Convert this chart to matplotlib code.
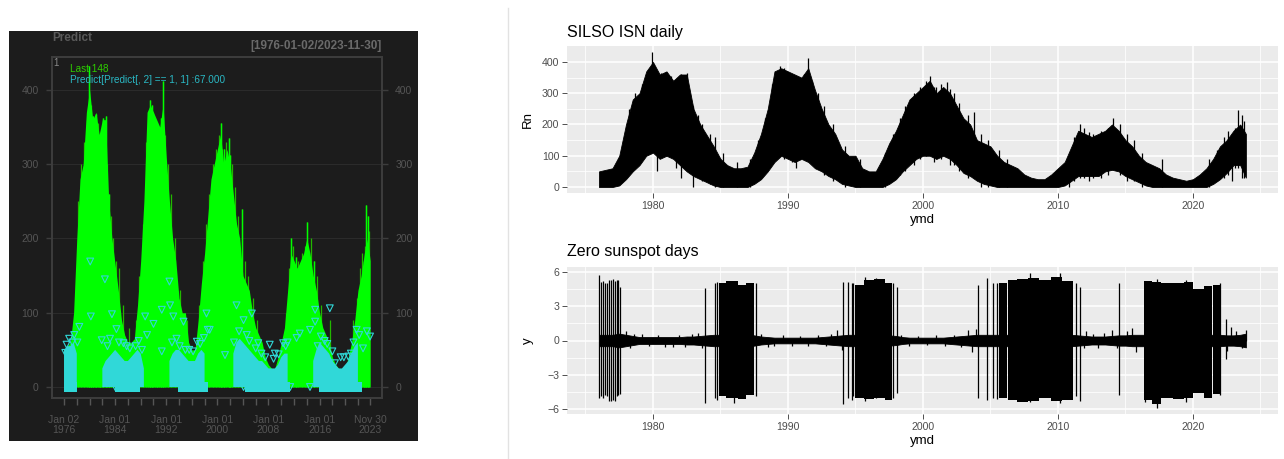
import numpy as np
import matplotlib
matplotlib.use("Agg")
import matplotlib.pyplot as plt
from matplotlib.patches import Rectangle
from matplotlib.lines import Line2D

plt.rcParams['font.family'] = ['Liberation Sans', 'DejaVu Sans']

# ---------------- data ----------------
# half-year sample times 1976.0 ... 2023.5, plus last day 2023-11-30
t_half = np.append(np.arange(1976.0, 2024.0, 0.5), 2023.92)

# daily sunspot number: upper / lower envelope per half year
isn_hi = [50, 55, 60, 100, 200, 280, 300, 370, 400, 360, 370, 340, 360, 360, 250, 200,
          165, 130, 90, 70, 60, 60, 65, 110, 170, 250, 370, 380, 370, 360, 350, 380,
          310, 250, 200, 170, 120, 100, 100, 60, 50, 50, 90, 140, 180, 230, 280, 300,
          320, 340, 300, 320, 300, 260, 220, 200, 150, 140, 130, 100, 80, 70, 60, 40,
          30, 25, 25, 40, 60, 80, 130, 180, 170, 160, 170, 180, 200, 180, 150, 130,
          100, 80, 70, 60, 40, 30, 25, 20, 25, 40, 60, 90, 130, 150, 180, 200, 170]
isn_lo = [0, 0, 0, 5, 25, 50, 70, 100, 110, 90, 100, 90, 70, 50, 35, 25,
          15, 5, 0, 0, 0, 0, 0, 10, 25, 50, 80, 100, 90, 80, 90, 80,
          60, 50, 35, 25, 10, 5, 0, 0, 0, 0, 0, 10, 25, 50, 70, 90,
          100, 100, 90, 100, 90, 70, 45, 35, 20, 10, 5, 0, 0, 0, 0, 0,
          0, 0, 0, 0, 0, 5, 20, 35, 35, 35, 35, 50, 55, 50, 35, 25,
          15, 5, 0, 0, 0, 0, 0, 0, 0, 0, 0, 10, 25, 45, 70, 70, 30]
# individual daily spikes: time, low end, high end
isn_spike_t = [1979.95, 1980.3, 1980.6, 1981.0, 1981.7, 1982.1, 1982.5, 1983.0, 1989.4, 1989.7,
               1990.6, 1991.2, 1991.5, 2000.5, 2001.0, 2001.8, 2002.0, 2003.8, 2011.6, 2012.3,
               2014.1, 2015.1, 2022.9, 2023.3, 2023.6,
               1978.2, 1978.7, 1979.2, 1979.6, 1980.15, 1980.8, 1981.3, 1981.5, 1982.0, 1982.7,
               1983.3, 1983.6, 1984.2, 1984.6, 1985.2, 1986.2, 1987.2, 1987.8, 1988.3, 1988.8,
               1989.1, 1989.9, 1990.3, 1990.9, 1991.8, 1992.2, 1992.7, 1993.3, 1994.2, 1995.3,
               1997.2, 1997.8, 1998.3, 1998.7, 1999.3, 1999.8, 2000.2, 2000.8, 2001.3, 2002.3,
               2002.7, 2003.3, 2004.3, 2004.8, 2005.6, 2006.2, 2010.8, 2011.2, 2011.9, 2012.6,
               2013.2, 2013.7, 2014.6, 2015.6, 2016.2, 2017.7, 2021.2, 2021.8, 2022.3, 2022.6,
               2023.1, 2023.8]
isn_spike_lo = [120, 50, 100, 100, 60, 30, 60, 0, 100, 90, 60, 90, 90, 110, 90, 100, 70, 30, 30, 20,
                60, 20, 20, 60, 30,
                150, 200, 150, 200, 150, 150, 120, 100, 100, 70,
                40, 20, 10, 0, 0, 0, 0, 20, 50, 80,
                90, 100, 80, 90, 80, 60, 40, 20, 0, 0,
                0, 20, 40, 50, 70, 90, 100, 80, 90, 70,
                50, 30, 0, 0, 0, 0, 0, 20, 30, 30,
                30, 40, 40, 20, 0, 0, 0, 20, 30, 40,
                60, 30]
isn_spike_hi = [432, 300, 365, 368, 330, 362, 365, 260, 386, 380, 340, 362, 412, 355, 320, 335, 312, 240, 200, 175,
                222, 170, 170, 245, 230,
                250, 300, 330, 360, 380, 330, 355, 300, 330, 300,
                230, 200, 170, 160, 110, 80, 90, 150, 220, 330,
                330, 370, 355, 330, 340, 300, 260, 200, 130, 90,
                110, 170, 220, 260, 300, 320, 340, 320, 330, 300,
                270, 230, 170, 150, 120, 90, 100, 160, 190, 170,
                180, 190, 200, 150, 110, 90, 90, 120, 160, 180,
                190, 210]

# predicted (Predict[,2]==1) values: dense band top per half year
pred_hi = [50, 55, 55, 60, 45, 0, 0, 0, 0, 0, 0, 0, 25, 35, 40, 45,
           50, 45, 40, 35, 35, 40, 45, 50, 45, 25, 0, 0, 0, 0, 0, 0,
           0, 35, 45, 50, 50, 45, 40, 35, 35, 35, 45, 50, 45, 0, 0, 0,
           0, 0, 0, 0, 0, 45, 60, 65, 60, 55, 50, 45, 40, 35, 35, 30,
           25, 25, 25, 30, 40, 45, 45, 0, 0, 0, 0, 0, 0, 0, 35, 50,
           60, 55, 50, 45, 35, 30, 25, 25, 30, 35, 45, 55, 60, 0, 0, 0, 0]
# scattered predicted points
pred_pt_t = [1980.1, 1982.4, 1980.2, 1978.4, 1983.5, 1981.9, 1984.2, 1985.3, 1986.3, 1988.7,
             1991.3, 1991.3, 1992.5, 1992.6, 1993.1, 1994.7, 1998.3, 1998.8, 1996.8, 1976.2,
             1976.4, 1998.5, 2001.2, 2003.0, 2004.1, 2005.4, 2006.4, 2008.2, 2010.3, 2012.4,
             2014.5, 2015.3, 2017.6, 2015.3, 2021.8, 2022.8, 2023.9, 2020.5, 2018.4, 2004.1,
             2014.5, 2011.4, 2004.1, 1984.0, 1994.3, 1977.3, 1987.2, 1995.6, 2009.0, 2019.3,
             1976.8, 1977.6, 1978.1, 1982.8, 1983.2, 1984.6, 1985.8, 1987.7, 1988.2, 1989.0,
             1992.9, 1993.6, 1994.1, 1995.0, 1996.2, 1997.3, 1997.9, 2002.6, 2003.4, 2004.6,
             2005.0, 2006.0, 2006.9, 2007.5, 2008.8, 2009.6, 2010.7, 2011.0, 2015.7, 2016.2,
             2016.8, 2017.2, 2018.0, 2019.8, 2020.9, 2021.3, 2022.2, 2023.4, 1990.0, 2012.9]
pred_pt_v = [169, 145, 95, 81, 98, 63, 78, 59, 52, 95,
             104, 48, 142, 110, 95, 88, 99, 77, 61, 46,
             57, 77, 43, 110, 90, 99, 59, 57, 59, 66,
             77, 88, 106, 104, 77, 52, 68, 41, 32, 20,
             0, 0, 0, 0, 0, 60, 55, 50, 45, 40,
             65, 70, 60, 55, 65, 60, 55, 62, 50, 70,
             60, 65, 55, 50, 48, 58, 66, 60, 75, 70,
             62, 52, 45, 40, 38, 44, 55, 60, 55, 68,
             62, 58, 48, 40, 45, 60, 70, 75, 85, 72]
# spans where predicted value is 0
zero_start = [1976.0, 1984.0, 1993.8, 2004.3, 2015.9]
zero_end = [1978.0, 1987.9, 1998.5, 2011.4, 2022.6]

# zero sunspot days series: noise amplitude per half year
zsd_amp = [0.5, 0.5, 0.5, 0.6, 0.5, 0.4, 0.3, 0.3, 0.3, 0.3, 0.3, 0.3, 0.3, 0.35, 0.35, 0.4,
           0.45, 0.5, 0.5, 0.5, 0.5, 0.5, 0.5, 0.45, 0.35, 0.3, 0.25, 0.25, 0.25, 0.25, 0.25, 0.25,
           0.25, 0.3, 0.35, 0.4, 0.45, 0.5, 0.5, 0.5, 0.5, 0.5, 0.5, 0.45, 0.4, 0.3, 0.25, 0.25,
           0.25, 0.25, 0.25, 0.25, 0.3, 0.35, 0.4, 0.45, 0.5, 0.5, 0.5, 0.5, 0.5, 0.5, 0.5, 0.5,
           0.5, 0.5, 0.5, 0.5, 0.5, 0.5, 0.5, 0.45, 0.4, 0.35, 0.35, 0.35, 0.4, 0.45, 0.45, 0.5,
           0.5, 0.5, 0.5, 0.5, 0.5, 0.5, 0.5, 0.5, 0.5, 0.5, 0.5, 0.5, 0.5, 0.45, 0.45, 0.5, 0.6]
zsd_blip_t = [1978.0, 1978.3, 1979.2, 1981.5, 1983.3, 1988.0, 1989.0, 1993.6, 1994.0, 2003.3,
              2003.6, 2003.9, 2012.1, 2013.0, 2014.0, 2015.5, 2015.8, 2022.8, 2023.9,
              1978.6, 1979.7, 1980.4, 1980.9, 1981.9, 1982.4, 1982.9, 1983.6, 1988.5, 1989.6,
              1990.3, 1990.9, 1991.5, 1992.2, 1992.8, 1993.2, 1998.4, 1999.0, 1999.6, 2000.3,
              2001.0, 2001.6, 2002.3, 2002.8, 2011.9, 2012.6, 2013.4, 2014.4, 2015.1, 2022.5,
              2023.2, 2023.6]
zsd_blip_v = [0.85, -0.7, 0.6, -0.6, 0.7, 0.6, -0.5, 0.9, -0.8, 0.9,
              -1.0, 1.0, 0.8, -0.7, 0.9, 1.1, -1.0, 1.2, 0.9,
              0.55, -0.5, 0.45, -0.55, 0.5, -0.6, 0.6, -0.65, -0.55, 0.45,
              -0.45, 0.4, -0.5, 0.45, -0.5, 0.6, 0.5, -0.45, 0.4, -0.4,
              0.45, -0.45, 0.5, -0.55, -0.7, 0.6, 0.65, -0.7, 0.8, -0.9,
              0.8, -0.7]
# big +/- spikes
zsd_sp_t = [1976.0, 1976.15, 1976.3, 1976.44, 1976.6, 1976.75, 1976.9, 1977.05, 1977.19, 1977.3,
            1977.42, 1977.56, 1983.85, 1984.6, 1984.75, 1987.6, 1994.1, 1994.47, 1994.72, 1994.85,
            1997.8, 1998.05, 2004.05, 2004.77, 2005.16, 2005.46, 2011.3, 2011.63, 2014.52, 2016.45,
            2022.0, 2022.42, 1986.0, 1995.7, 1996.5, 2007.9, 2010.15, 2017.3, 2019.5]
zsd_sp_top = [5.7, 5.1, 5.2, 5.0, 5.0, 5.3, 5.3, 5.4, 5.2, 5.3,
              5.3, 4.7, 4.6, 5.0, 5.1, 5.0, 5.1, 5.1, 5.0, 5.0,
              5.0, 4.7, 4.9, 5.5, 5.0, 5.0, 5.0, 4.7, 5.0, 5.1,
              5.0, 1.9, 5.1, 5.6, 5.5, 5.9, 5.9, 5.4, 5.3]
zsd_sp_bot = [-5.0, -4.9, -5.0, -4.8, -4.9, -5.3, -5.3, -5.2, -5.3, -4.9,
              -4.8, -4.7, -5.5, -5.0, -5.2, -4.9, -5.6, -5.0, -5.2, -4.9,
              -5.0, -4.6, -5.0, -5.2, -5.0, -5.1, -4.9, -5.3, -4.8, -5.4,
              -4.8, -1.6, -5.5, -5.3, -5.0, -5.4, -5.5, -5.9, -5.4]
# dense spike periods (start, end, top, bottom)
zsd_dense_start = [1984.9, 1985.4, 1986.3, 1986.9, 1995.0, 1995.6, 1996.4, 1997.2,
                   2005.6, 2006.3, 2007.0, 2007.8, 2008.6, 2009.5, 2010.3,
                   2016.4, 2017.0, 2017.6, 2018.5, 2019.3, 2020.0, 2020.8, 2021.5]
zsd_dense_end = [1985.4, 1986.3, 1986.9, 1987.5, 1995.6, 1996.4, 1997.2, 1997.7,
                 2006.2, 2007.0, 2007.8, 2008.6, 2009.5, 2010.3, 2011.1,
                 2017.0, 2017.6, 2018.5, 2019.3, 2020.0, 2020.8, 2021.4, 2022.0]
zsd_dense_top = [5.0, 5.2, 4.9, 5.0, 4.9, 5.3, 5.4, 5.0,
                 5.0, 5.3, 5.4, 5.5, 5.3, 5.6, 5.2,
                 5.2, 5.1, 5.0, 5.0, 5.1, 4.5, 4.8, 4.9]
zsd_dense_bot = [-4.9, -5.0, -5.1, -4.8, -5.0, -5.1, -5.0, -5.2,
                 -5.0, -5.2, -5.4, -5.3, -5.0, -5.3, -5.2,
                 -5.2, -5.6, -5.0, -5.1, -5.0, -4.6, -5.0, -4.7]

left_major_t = [1976.0, 1984.0, 1992.0, 2000.0, 2008.0, 2016.0, 2023.92]
left_major_lab = ["Jan 02\n1976", "Jan 01\n1984", "Jan 01\n1992", "Jan 01\n2000",
                  "Jan 01\n2008", "Jan 01\n2016", "Nov 30\n2023"]

# ---------------- figure ----------------
W, H = 1284, 459
fig = plt.figure(figsize=(W / 100, H / 100), dpi=100)
fig.patch.set_facecolor('white')


def fx(px):
    return px / W


def fy(py):
    return 1 - py / H


# ---- left: dark xts-style panel ----
fig.add_artist(Rectangle((fx(9), fy(441)), fx(418) - fx(9), fy(31) - fy(441),
                         transform=fig.transFigure, facecolor='#1c1c1c', edgecolor='none', zorder=0))
axL = fig.add_axes([fx(52), fy(398), fx(382) - fx(52), fy(57) - fy(398)])
axL.set_facecolor('#1c1c1c')
green = '#00ff00'
cyan = '#30d8d8'
for y in [0, 100, 200, 300, 400]:
    axL.axhline(y, color='#2b2b2b', lw=0.8, zorder=0)
# thin darker spikes sit under the solid green mass, only their tips show
axL.vlines(isn_spike_t, 0, isn_spike_hi, color='#22b800', lw=0.9, zorder=1)
axL.vlines(isn_spike_t[:25], 0, isn_spike_hi[:25], color=green, lw=1.0, zorder=1.5)
axL.fill_between(t_half, 0, isn_hi, color=green, lw=0, zorder=2)
ph = np.array(pred_hi)
axL.fill_between(t_half, 0, ph, where=ph > 0, color=cyan, lw=0, zorder=3)
for s, e in zip(zero_start, zero_end):
    axL.fill_between([s, e], -7, 7, color=cyan, lw=0, zorder=3)
axL.scatter(pred_pt_t, pred_pt_v, marker='v', s=24, facecolors='none', edgecolors=cyan,
            linewidths=0.8, zorder=4)
axL.set_xlim(1974.12, 2025.77)
axL.set_ylim(-14.8, 444.4)
for sp in axL.spines.values():
    sp.set_color('#3d3d3d')
    sp.set_linewidth(1.4)
axL.set_yticks([0, 100, 200, 300, 400])
axL.tick_params(axis='y', which='both', left=True, right=True, labelleft=True, labelright=True,
                color='#3d3d3d', length=4.5, width=1, labelcolor='#555555', labelsize=7.5, pad=5)
axL.set_xticks(left_major_t)
axL.set_xticklabels(left_major_lab, linespacing=1.05)
axL.set_xticks(np.arange(1978, 2023, 2), minor=True)
axL.tick_params(axis='x', which='both', color='#555555', length=5, width=1,
                labelcolor='#555555', labelsize=7.5, pad=7)
fig.text(fx(52), fy(38), 'Predict', fontsize=8.5, fontweight='bold', color='#5a5a5a', va='center')
fig.text(fx(382), fy(45.5), '[1976-01-02/2023-11-30]', fontsize=8.5, fontweight='bold',
         color='#6a6a6a', va='center', ha='right')
fig.text(fx(53), fy(63), '1', fontsize=7, color='#8a8a8a', va='center')
fig.text(fx(70.5), fy(69), 'Last 148', fontsize=7.2, color='#2ecc00', va='center')
fig.text(fx(70.5), fy(80), 'Predict[Predict[, 2] == 1, 1] :67.000', fontsize=7.2,
         color='#2ab8c4', va='center')

# ---- separator on the right part ----
fig.add_artist(Line2D([fx(508.5), fx(508.5)], [fy(8), 0], transform=fig.transFigure,
                      color='#e2e2e2', lw=1))


def gg_style(ax, yt, yminor):
    ax.set_facecolor('#EBEBEB')
    for sp in ax.spines.values():
        sp.set_visible(False)
    ax.set_xticks([1980, 1990, 2000, 2010, 2020])
    ax.set_xticks([1975, 1985, 1995, 2005, 2015, 2025], minor=True)
    ax.set_yticks(yt)
    ax.set_yticks(yminor, minor=True)
    ax.grid(which='major', color='white', lw=1.1)
    ax.grid(which='minor', color='white', lw=0.55)
    ax.set_axisbelow(True)
    ax.tick_params(which='major', color='#333333', length=3.5, width=0.6,
                   labelcolor='#4D4D4D', labelsize=7.6, pad=2)
    ax.tick_params(which='minor', length=0)
    ax.set_xlim(1973.63, 2026.30)


# ---- top right: SILSO ISN daily ----
ax1 = fig.add_axes([fx(567), fy(193), fx(1278) - fx(567), fy(46) - fy(193)])
gg_style(ax1, [0, 100, 200, 300, 400], [50, 150, 250, 350])
ax1.fill_between(t_half, isn_lo, isn_hi, color='black', lw=0.6, zorder=3)
ax1.vlines(isn_spike_t, isn_spike_lo, isn_spike_hi, color='black', lw=0.9, zorder=3)
ax1.set_ylim(-19.2, 451.2)
fig.text(fx(567), fy(36.5), 'SILSO ISN daily', fontsize=11.5, color='black', va='baseline')
fig.text(fx(922.5), fy(220), 'ymd', fontsize=9.5, color='black', va='center', ha='center')
fig.text(fx(528), fy(119.5), 'Rn', fontsize=9.5, color='black', va='center', ha='center',
         rotation=90)

# ---- bottom right: zero sunspot days ----
ax2 = fig.add_axes([fx(567), fy(414), fx(1278) - fx(567), fy(267) - fy(414)])
gg_style(ax2, [-6, -3, 0, 3, 6], [-4.5, -1.5, 1.5, 4.5])
amp = np.array(zsd_amp)
ax2.fill_between(t_half, -amp, amp, color='black', lw=0.6, zorder=3)
ax2.vlines(zsd_blip_t, 0, zsd_blip_v, color='black', lw=0.9, zorder=3)
for s, e, tp, bt in zip(zsd_dense_start, zsd_dense_end, zsd_dense_top, zsd_dense_bot):
    ax2.fill_between([s, e], bt, tp, color='black', lw=0, zorder=3)
ax2.vlines(zsd_sp_t, zsd_sp_bot, zsd_sp_top, color='black', lw=0.9, zorder=3)
ax2.set_ylim(-6.44, 6.44)
fig.text(fx(567), fy(256), 'Zero sunspot days', fontsize=11.5, color='black', va='baseline')
fig.text(fx(922.5), fy(441), 'ymd', fontsize=9.5, color='black', va='center', ha='center')
fig.text(fx(528), fy(340.5), 'y', fontsize=9.5, color='black', va='center', ha='center',
         rotation=90)

fig.savefig('out.png', dpi=100, facecolor='white')
